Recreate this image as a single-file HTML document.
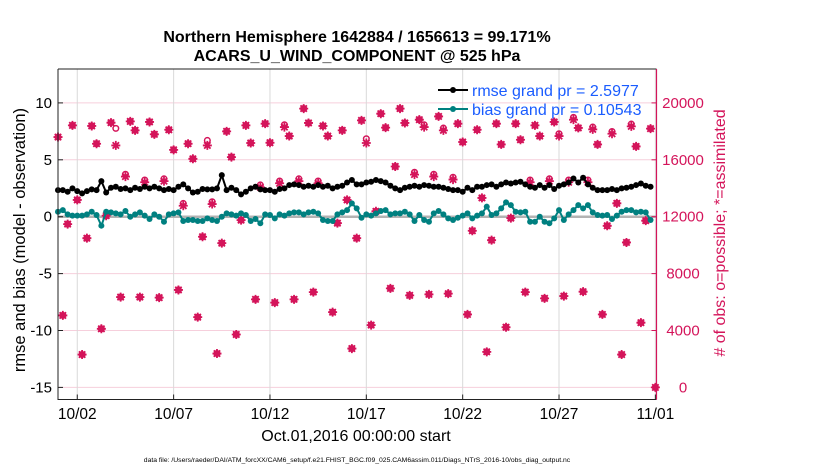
<!DOCTYPE html>
<html><head><meta charset="utf-8"><style>
body{margin:0;background:#fff;}
svg{display:block;font-family:"Liberation Sans",Arial,sans-serif;}
</style></head><body>
<svg id="chart" width="830" height="470" viewBox="0 0 830 470">
<rect x="0" y="0" width="830" height="470" fill="#fff"/>
<g id="grid"></g>
<g id="marks"></g>
<g id="axes"></g>
<text x="357" y="42" text-anchor="middle" font-size="16" font-weight="bold">Northern Hemisphere 1642884 / 1656613 = 99.171%</text>
<text x="357" y="61" text-anchor="middle" font-size="16" font-weight="bold">ACARS_U_WIND_COMPONENT @ 525 hPa</text>
<text transform="translate(25,240) rotate(-90)" text-anchor="middle" font-size="16.5">rmse and bias (model - observation)</text>
<text transform="translate(725,233) rotate(-90)" text-anchor="middle" font-size="16" fill="#d4145a"># of obs: o=possible; *=assimilated</text>
<text x="356" y="441" text-anchor="middle" font-size="16">Oct.01,2016 00:00:00 start</text>
<text x="357" y="462" text-anchor="middle" font-size="6.8">data file: /Users/raeder/DAI/ATM_forcXX/CAM6_setup/f.e21.FHIST_BGC.f09_025.CAM6assim.011/Diags_NTrS_2016-10/obs_diag_output.nc</text>
<g>
<line x1="438" y1="90" x2="468" y2="90" stroke="#000" stroke-width="2"/>
<circle cx="453" cy="90" r="3" fill="#000"/>
<text x="472" y="96" font-size="16" fill="#1a5cff">rmse grand pr = 2.5977</text>
<line x1="438" y1="109" x2="468" y2="109" stroke="#008080" stroke-width="2"/>
<circle cx="453" cy="109" r="3" fill="#008080"/>
<text x="472" y="115" font-size="16" fill="#1a5cff">bias grand pr = 0.10543</text>
</g>
</svg>
<script>
const rmse=[2.34,2.34,2.19,2.49,2.25,2.05,2.25,2.40,2.34,3.13,2.13,2.54,2.63,2.43,2.49,2.34,2.54,2.43,2.63,2.49,2.63,2.49,2.34,2.43,2.34,2.63,2.84,2.49,2.13,2.19,2.43,2.40,
2.40,2.49,3.65,2.34,2.54,2.34,1.96,2.19,2.49,2.63,2.40,2.34,2.34,2.19,2.43,2.49,2.78,2.84,2.78,2.63,2.72,2.63,2.78,2.63,2.72,2.49,2.63,2.72,3.01,3.22,2.84,2.84,
3.01,3.07,3.22,3.13,3.01,2.72,2.49,2.34,2.54,2.63,2.72,2.63,2.78,2.72,2.63,2.63,2.54,2.43,2.34,2.34,2.19,2.54,2.34,2.63,2.63,2.78,2.84,2.63,2.84,3.01,2.92,
3.01,3.07,2.84,2.63,2.54,2.78,2.54,2.78,2.43,2.72,2.84,3.01,3.36,3.01,3.42,2.84,2.54,2.34,2.34,2.34,2.43,2.34,2.49,2.54,2.63,2.78,2.92,2.72,2.63];
const bias=[0.44,0.58,0.20,0.09,0.09,0.09,0.20,0.44,0.15,-0.79,0.44,0.38,0.29,0.20,0.50,0.00,0.20,0.38,0.09,-0.20,0.20,0.00,-0.44,0.20,0.29,0.38,-0.38,-0.29,-0.29,-0.38,-0.38,-0.15,
-0.29,-0.38,0.00,0.29,0.20,0.09,0.29,0.15,-0.38,-0.20,-0.58,0.20,0.15,-0.15,0.20,0.09,0.29,0.38,0.38,0.20,0.38,0.44,0.29,-0.29,-0.38,-0.38,0.20,0.38,0.58,1.17,0.73,-0.09,
0.20,0.09,0.29,0.50,0.58,0.20,0.29,0.29,0.44,0.20,-0.38,0.15,-0.29,-0.44,0.29,0.50,0.20,-0.15,-0.29,-0.09,0.09,0.29,-0.15,0.09,0.29,0.88,0.15,0.29,0.73,1.26,1.02,
0.44,0.38,0.44,-0.44,-0.44,0.00,-0.44,-0.58,-0.15,0.58,-0.29,0.20,0.58,1.02,0.73,1.02,0.38,0.15,0.09,0.15,-0.20,0.09,0.44,0.58,0.58,0.38,0.44,0.38,-0.29];
const assimilated=[17600,5060,11480,18420,13180,2310,10490,18380,17130,4120,12070,18610,17010,6350,14820,18700,18070,6350,14420,18660,17790,6310,14500,18110,16700,6850,12770,17130,16070,4940,10590,17010,
12890,2380,10140,18000,16190,3720,11760,18420,17180,6190,14070,18540,17200,5960,14350,18300,17670,6190,14500,19600,18590,6700,14350,18380,17670,5290,11550,18070,13180,2730,10490,18770,
17180,4380,12380,19240,18260,6960,15530,19600,18590,6470,14960,18820,18300,6540,14820,19050,18070,6590,14610,18540,17250,5130,11010,18110,13320,2500,10350,18540,17080,4230,11900,
18540,17410,6700,14420,18420,17670,6260,14500,18660,17670,6420,14420,18820,18240,6730,14420,18140,17080,5130,11360,17830,12940,2310,10190,18350,16940,4550,11720,18190,0];
const possible=[17600,5060,11480,18420,13180,2310,10490,18380,17130,4120,12070,18610,18210,6350,14980,18700,18070,6350,14580,18660,17790,6310,14660,18110,16700,6850,12930,17130,16070,4940,10590,17360,
13050,2380,10140,18000,16190,3720,11760,18420,17180,6190,14230,18540,17200,5960,14510,18460,17670,6190,14660,19600,18590,6700,14510,18380,17670,5290,11550,18070,13180,2730,10490,18770,
17480,4380,12380,19240,18260,6960,15530,19600,18590,6470,15120,18820,18460,6540,14980,19050,18230,6590,14770,18540,17250,5130,11010,18110,13320,2500,10350,18540,17080,4230,11900,
18540,17410,6700,14580,18420,17670,6260,14660,18660,17830,6420,14580,18980,18240,6730,14580,18300,17080,5130,11360,17990,12940,2310,10190,18510,16940,4550,11720,18190,0];
const xTickLabels=["10/02","10/07","10/12","10/17","10/22","10/27","11/01"];
const xTickDays=[1,6,11,16,21,26,31];
const yLeftTicks=[-15,-10,-5,0,5,10];
const yRightTicks=[0,4000,8000,12000,16000,20000];

const NS="http://www.w3.org/2000/svg";
const PL=58,PR=656.5,PT=69,PB=399.5;
const X0=58,PXD=19.27;
function xScale(day){return X0+day*PXD;}
function yLeft(v){return 216.7-v*11.38;}
function yRight(c){return yLeft(-15+c/800);}
function mk(tag,attrs,parent){const e=document.createElementNS(NS,tag);for(const k in attrs)e.setAttribute(k,attrs[k]);parent.appendChild(e);return e;}
const grid=document.getElementById('grid'),marks=document.getElementById('marks'),axes=document.getElementById('axes');

yRightTicks.forEach(c=>{const y=yRight(c);
 const l=mk('line',{x1:PL,x2:PR,y1:y,y2:y,stroke:'#f6cfdc','stroke-width':1},grid);
 
 });
xTickDays.forEach(d=>{const x=xScale(d);
 const l=mk('line',{x1:x,x2:x,y1:PT,y2:PB,stroke:'#d9d9d9','stroke-width':1},grid);
 
 });
const zl=mk('line',{x1:PL,x2:PR,y1:yLeft(0),y2:yLeft(0),stroke:'#b3b3b3','stroke-width':2.5},grid);



const pink='#d4145a';
possible.forEach((c,i)=>{const x=xScale(i*0.25),y=yRight(c);
 const e=mk('circle',{cx:x,cy:y,r:2.8,fill:'none',stroke:pink,'stroke-width':1.5},marks);
 
 });
assimilated.forEach((c,i)=>{const x=xScale(i*0.25),y=yRight(c),s=4.5,d=3.2;
 const e=mk('path',{d:`M${x-s},${y}H${x+s}M${x},${y-s}V${y+s}M${x-d},${y-d}L${x+d},${y+d}M${x-d},${y+d}L${x+d},${y-d}`,stroke:pink,'stroke-width':1.8,fill:'none'},marks);
 
 });

function series(vals,color,name){
 const pts=vals.map((v,i)=>xScale(i*0.25).toFixed(1)+','+yLeft(v).toFixed(1)).join(' ');
 const pl=mk('polyline',{points:pts,fill:'none',stroke:color,'stroke-width':2},marks);
 
 
 vals.forEach((v,i)=>{const c=mk('circle',{cx:xScale(i*0.25),cy:yLeft(v),r:3,fill:color},marks);
  
  });
}
series(rmse,'#000','rmse');
series(bias,'#008080','bias');

const frame=mk('path',{d:`M${PL},${PT}H${PR}M${PL},${PT}V${PB}H${PR}`,stroke:'#222','stroke-width':1,fill:'none'},axes);


const ra=mk('line',{x1:PR,x2:PR,y1:PT,y2:PB,stroke:pink,'stroke-width':1.2},axes);


yLeftTicks.forEach(v=>{const y=yLeft(v);
 mk('line',{x1:PL,x2:PL+5,y1:y,y2:y,stroke:'#222'},axes);
 const t=mk('text',{x:PL-6,y:y+5,'text-anchor':'end','font-size':15},axes);t.textContent=v;
 
 });
yRightTicks.forEach(c=>{const y=yRight(c);
 mk('line',{x1:PR-5,x2:PR,y1:y,y2:y,stroke:pink},axes);
 const t=mk('text',{x:683,y:y+5,'text-anchor':'middle','font-size':15,fill:pink},axes);t.textContent=c;
 
 });
xTickDays.forEach((d,i)=>{const x=xScale(d);
 mk('line',{x1:x,x2:x,y1:PB,y2:PB-5,stroke:'#222'},axes);
 const t=mk('text',{x:x,y:419,'text-anchor':'middle','font-size':15.5},axes);t.textContent=xTickLabels[i];
 
 });
</script>
</body></html>
